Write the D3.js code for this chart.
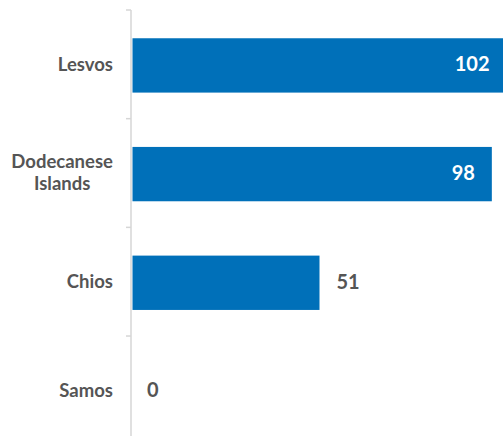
<!DOCTYPE html>
<html>
<head>
<meta charset="utf-8">
<script src="https://cdn.jsdelivr.net/npm/d3@7"></script>
<style>
  body { margin: 0; background: #fff; }
  svg { display: block; font-family: Lato, "Open Sans", sans-serif; }
</style>
</head>
<body>
<svg id="chart"></svg>
<script>
const width  = 503
const height = 436

// data
const islands = ["Lesvos", "Dodecanese Islands", "Chios", "Samos"]
const islandLines = [["Lesvos"], ["Dodecanese", "Islands"], ["Chios"], ["Samos"]]
const arrivals = [102, 98, 51, 0]

const barColor = "#0070b9"
const textColor = "#555555"

let svg = d3.select("#chart")
            .attr("width", width)
            .attr("height", height)

const x = d3.scaleLinear()
            .domain([0, 102])
            .range([132.5, 506.5])

const y = d3.scaleBand()
            .domain(islands)
            .range([10, 444.7])
            .padding(0)

const axisX = 131
const barH = y.bandwidth() * 0.5
const barOff = y.bandwidth() * 0.26

// axis line + ticks at band edges
svg.append("line")
    .attr("x1", axisX).attr("x2", axisX)
    .attr("y1", y.range()[0]).attr("y2", height)
    .style("stroke", "#d6d6d6")
    .style("stroke-width", 1.5)

svg.append("g")
    .selectAll("line")
    .data(islands)
    .enter().append("line")
    .attr("x1", axisX - 5).attr("x2", axisX)
    .attr("y1", d => y(d)).attr("y2", d => y(d))
    .style("stroke", "#d6d6d6")
    .style("stroke-width", 1.5)

// bars
svg.append("g")
    .selectAll("rect")
    .data(islands)
    .enter().append("rect")
    .attr("x", x(0))
    .attr("y", d => y(d) + barOff)
    .attr("width", (d, i) => x(arrivals[i]) - x(0))
    .attr("height", barH)
    .attr("fill", barColor)

// category labels (multi-line, centred as a block, right aligned to axis)
const labels = svg.append("g")
    .selectAll("g")
    .data(islands)
    .enter().append("g")

labels.each(function (d, i) {
    const lines = islandLines[i]
    const lineH = 22
    const cy = y(d) + y.bandwidth() / 2
    const t = d3.select(this).append("text")
        .style("font-size", "18.5px")
        .style("font-weight", "bold")
        .attr("fill", textColor)
        .attr("text-anchor", "middle")
    lines.forEach((ln, j) => {
        t.append("tspan")
            .attr("x", 0)
            .attr("y", cy + (j - (lines.length - 1) / 2) * lineH)
            .attr("dy", ".35em")
            .text(ln)
    })
    const w = this.getBBox().width
    d3.select(this).attr("transform", `translate(${113 - w / 2},0)`)
})

// value labels
svg.append("g")
    .selectAll("text")
    .data(islands)
    .enter().append("text")
    .attr("x", (d, i) => arrivals[i] > 60 ? x(arrivals[i]) - 17 : x(arrivals[i]) + 17 - (arrivals[i] === 0 ? 2.5 : 0))
    .attr("y", d => y(d) + y.bandwidth() / 2)
    .attr("dy", ".35em")
    .attr("text-anchor", (d, i) => arrivals[i] > 60 ? "end" : "start")
    .attr("fill", (d, i) => arrivals[i] > 60 ? "#ffffff" : textColor)
    .style("font-size", "20px")
    .style("font-weight", "bold")
    .text((d, i) => arrivals[i])
</script>
</body>
</html>
